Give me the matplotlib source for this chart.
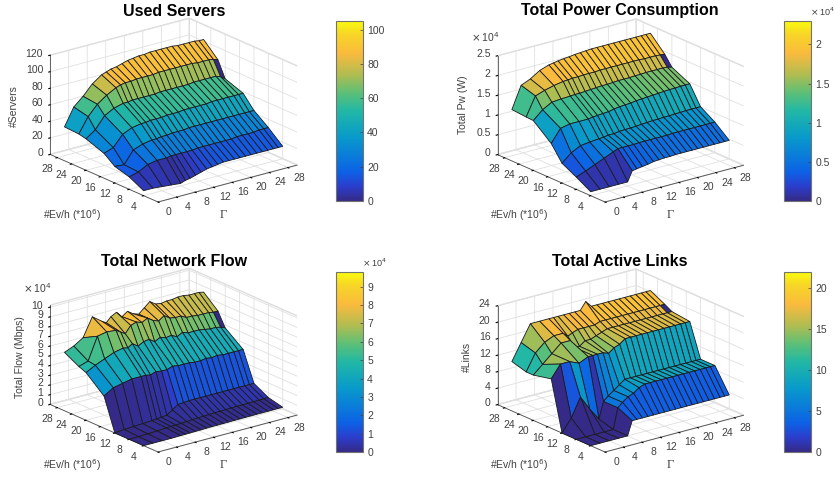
import numpy as np
import matplotlib
matplotlib.use("Agg")
import matplotlib.pyplot as plt
from matplotlib.colors import LinearSegmentedColormap, Normalize
from matplotlib.cm import ScalarMappable
from mpl_toolkits.mplot3d import proj3d

plt.rcParams['font.family'] = ['Liberation Sans', 'DejaVu Sans']

gamma = [0, 2, 4, 6, 8, 9, 10, 11.2, 12.4, 13.6, 14.8, 16, 17.2, 18.4, 19.6, 20.8, 22, 23.2, 24.4, 25.6, 26.8, 28, 29, 30]
ev = [4, 8, 12, 15, 20, 22, 26]

servers = [
 [6, 6, 5, 4, 3, 5, 6, 8, 10, 12, 13, 14, 15, 15, 15, 15, 15, 15, 15, 15, 15, 15, 15, 15],
 [15, 18, 24, 26, 26, 27, 27, 27, 27, 27, 28, 28, 28, 28, 28, 28, 28, 29, 29, 29, 29, 30, 30, 30],
 [20, 19, 34, 38, 40, 40, 41, 41, 42, 42, 42, 43, 43, 43, 43, 43, 43, 43, 43, 43, 43, 43, 43, 43],
 [30, 34, 47, 52, 54, 54, 55, 55, 55, 56, 56, 56, 57, 57, 57, 57, 57, 58, 58, 58, 58, 58, 58, 58],
 [38, 46, 60, 66, 69, 69, 70, 70, 70, 70, 70, 71, 71, 71, 71, 71, 71, 72, 72, 72, 72, 72, 70, 66],
 [40, 58, 70, 78, 84, 86, 87, 87, 88, 88, 88, 88, 89, 89, 89, 89, 89, 89, 89, 88, 88, 88, 87, 85],
 [41, 62, 72, 84, 92, 94, 96, 97, 99, 101, 102, 103, 103, 104, 104, 104, 104, 104, 103, 103, 103, 103, 102, 102],
]
power = [
 [.1, .1, .1, .1, .1, .35, .37, .39, .41, .44, .45, .46, .46, .47, .47, .47, .47, .47, .47, .47, .47, .47, .47, .47],
 [.31, .4, .5, .6, .7, .75, .75, .75, .75, .76, .76, .76, .76, .76, .76, .77, .77, .77, .77, .77, .77, .77, .77, .77],
 [.5, .7, .82, .85, .87, .88, .9, .9, .92, .93, .93, .94, .95, .96, .97, .97, .98, .98, .99, .99, 1, 1, 1, 1],
 [.88, 1.2, 1.25, 1.25, 1.25, 1.27, 1.28, 1.29, 1.3, 1.33, 1.35, 1.36, 1.37, 1.39, 1.4, 1.41, 1.42, 1.43, 1.44, 1.45, 1.45, 1.46, 1.46, 1.46],
 [1.26, 1.47, 1.6, 1.62, 1.63, 1.64, 1.64, 1.65, 1.66, 1.67, 1.68, 1.68, 1.69, 1.7, 1.7, 1.7, 1.71, 1.71, 1.72, 1.72, 1.72, 1.72, 1.71, 1.68],
 [1.27, 1.74, 1.82, 1.88, 1.92, 1.93, 1.94, 1.94, 1.95, 1.95, 1.95, 1.96, 1.96, 1.96, 1.96, 1.96, 1.96, 1.96, 1.96, 1.95, 1.95, 1.95, 1.94, 1.93],
 [1.3, 1.85, 1.95, 2.1, 2.18, 2.2, 2.22, 2.24, 2.25, 2.27, 2.28, 2.29, 2.3, 2.3, 2.3, 2.3, 2.3, 2.3, 2.3, 2.3, 2.3, 2.3, 2.3, 2.3],
]
flow = [
 [0, 0, 0, 0, .02, .03, .04, .05, .06, .08, .09, .1, .1, .11, .12, .12, .13, .13, .14, .14, .14, .15, .15, .15],
 [0, .02, .05, .1, .15, .18, .2, .22, .25, .3, .32, .35, .37, .4, .4, .42, .43, .45, .45, .46, .47, .48, .5, .5],
 [0, .1, .15, .2, .25, .3, .35, .4, .8, 1.2, 1.25, 1.3, 1.3, 1.3, 1.3, 1.3, 1.3, 1.3, 1.3, 1.3, 1.3, 1.3, 1.3, 1.3],
 [3.3, 3.9, 4.1, 4.3, 4.3, 4.3, 4.2, 4.4, 4.3, 4.3, 4.5, 4.4, 4.4, 4.4, 4.3, 4.3, 4.4, 4.3, 4.4, 4.3, 4.3, 4.3, 4.3, 4.3],
 [4.9, 5.4, 5.8, 6.2, 6.4, 6.3, 6.6, 6.2, 6.5, 6.6, 6.2, 6.5, 6.3, 6.4, 6.1, 6.4, 6.2, 6.2, 6.2, 6.1, 6.0, 6.0, 5.9, 5.7],
 [5.2, 5.5, 7.8, 8.0, 7.9, 7.6, 7.3, 8.0, 8.2, 8.0, 8.3, 7.9, 7.7, 8.1, 7.7, 7.6, 7.6, 7.3, 7.3, 7.2, 7.2, 7.2, 7.1, 7.1],
 [6.0, 6.4, 7.0, 8.9, 8.2, 7.9, 8.4, 8.7, 8.1, 8.5, 8.1, 7.9, 8.4, 8.9, 8.5, 8.4, 8.5, 8.5, 8.6, 8.6, 8.5, 8.5, 8.5, 8.4],
]
links = [
 [0, 0, 0, 0, 0, 3.4, 3.4, 3.4, 3.4, 3.4, 3.4, 3.4, 3.4, 3.4, 3.4, 3.4, 3.4, 3.4, 3.4, 3.4, 3.4, 3.4, 3.4, 3.4],
 [0, 0, 0, 0, 0, 5, 6, 7, 7.5, 8.5, 9, 9, 9, 9, 9, 9, 9, 9, 9, 9, 9, 9, 9, 9],
 [0, 3, 7.5, 4, 1, 5, 6, 7, 8, 9, 9, 9, 9, 9, 9, 9, 9, 9, 9, 9, 9, 9, 9, 9],
 [12, 15, 15, 14, 15, 15, 15, 15, 14.5, 15.5, 16, 17, 17, 17, 17, 17, 17, 17, 17, 17, 17, 17, 17, 17],
 [11, 13, 15, 17, 17, 15, 15, 16, 16, 16.5, 17, 17.5, 17.5, 17.5, 17.5, 17.5, 17.5, 17.5, 17.5, 17.5, 17.5, 17.5, 17.5, 17.5],
 [11, 15, 17, 18, 18, 17, 17.5, 18, 18, 18, 18, 18.5, 18.5, 18.5, 18.5, 18.5, 18.5, 18.5, 18.5, 18.5, 18.5, 18.5, 18.5, 18.5],
 [12, 16, 20, 20, 20, 20, 20, 20, 20, 20, 20, 21.8, 20.3, 20.3, 20.3, 20.3, 20.3, 20.3, 20.3, 20.3, 20.3, 20.3, 20.3, 20.3],
]

titles = ['Used Servers', 'Total Power Consumption', 'Total Network Flow', 'Total Active Links']
zlabels = ['#Servers', 'Total Pw (W)', 'Total Flow (Mbps)', '#Links']
zticks = [[0, 20, 40, 60, 80, 100, 120], [0, .5, 1, 1.5, 2, 2.5], list(range(11)), [0, 4, 8, 12, 16, 20, 24]]
zticklabels = [[str(v) for v in zticks[0]], ['0', '0.5', '1', '1.5', '2', '2.5'],
               [str(v) for v in zticks[2]], [str(v) for v in zticks[3]]]
ztops = [120, 2.5, 10.2, 24]
cmax = [105, 2.3, 9.8, 22]
cbticks = [[0, 20, 40, 60, 80, 100], [0, .5, 1, 1.5, 2], list(range(10)), [0, 5, 10, 15, 20]]
cblabels = [[str(v) for v in cbticks[0]], ['0', '0.5', '1', '1.5', '2'],
            [str(v) for v in cbticks[2]], [str(v) for v in cbticks[3]]]
data = [servers, power, flow, links]
gticks = [0, 4, 8, 12, 16, 20, 24, 28]
eticks = [4, 8, 12, 16, 20, 24, 28]

W, H = 835, 479
fronts = [(158, 202), (605, 202), (158, 452), (605, 452)]
lefts = [50, 497, 50, 497]
rights = [297, 743, 297, 743]
cbars = [(336, 21, 27, 180), (784, 21, 27, 180), (336, 272, 27, 180), (784, 272, 27, 180)]
title_xy = [(174, 11), (620, 11), (174, 262), (620, 262)]
zlabel_xy = [(14, 106), (463, 105), (20, 357), (467, 357)]
fs = 7.5

parula = LinearSegmentedColormap.from_list('parula', [
    (0.00, (.208, .166, .529)), (.08, (.17, .24, .80)), (.16, (.05, .38, .90)), (.35, (.03, .60, .80)),
    (.50, (.13, .72, .65)), (.60, (.36, .75, .47)), (.70, (.68, .74, .32)), (.82, (.98, .73, .24)),
    (.93, (.97, .84, .15)), (1.0, (.98, .98, .05))], N=256)

fig = plt.figure(figsize=(W / 100, H / 100), dpi=100)
TXT = (.25, .25, .25)
GX, EV = np.meshgrid(gamma, ev)

def corner_px(ax, x, y, z):
    ax.apply_aspect()
    xs, ys, _ = proj3d.proj_transform(x, y, z, ax.get_proj())
    return ax.transData.transform((xs, ys))

def put(px, py, s, **kw):
    kw.setdefault('fontsize', fs); kw.setdefault('color', TXT); kw.setdefault('va', 'center')
    fig.text(px / W, py / H, s, **kw)

for i in range(4):
    S0 = 400.
    ax = fig.add_axes([0, 0, S0 / W, S0 / H], projection='3d', proj_type='ortho', facecolor='none')
    ax.view_init(elev=20, azim=-127.8)
    ax.set_box_aspect((1, 1, .6))
    ax.set_xlim(0, 30); ax.set_ylim(0, 30); ax.set_zlim(0, ztops[i])
    Z = np.array(data[i], float)
    norm = Normalize(0, cmax[i])
    fc = parula(norm(Z))
    fc[4, -2] = parula(0.0)
    ax.plot_surface(GX, EV, Z, facecolors=fc, rstride=1, cstride=1, shade=False,
                    edgecolor=(.1, .1, .12), linewidth=.6, antialiased=True)
    ax.set_xticks(gticks); ax.set_yticks(eticks); ax.set_zticks(zticks[i])
    ax.set_xticklabels([''] * len(gticks)); ax.set_yticklabels([''] * len(eticks))
    ax.set_zticklabels([''] * len(zticks[i]))
    for a in (ax.xaxis, ax.yaxis, ax.zaxis):
        a.set_pane_color((1, 1, 1, 1))
        a.pane.set_edgecolor((.87, .87, .87))
        a.line.set_color((.3, .3, .3))
        a.line.set_linewidth(.6)
        a._axinfo['grid'].update(color=(.88, .88, .88), linewidth=.6)
        a._axinfo['tick'].update(inward_factor=.12, outward_factor=0)
    p0 = corner_px(ax, 0, 0, 0)
    pl = corner_px(ax, 0, 30, 0)
    pr = corner_px(ax, 30, 0, 0)
    k = (rights[i] - lefts[i]) / (pr[0] - pl[0])
    S = S0 * k
    fx, fy = fronts[i]
    left = fx - p0[0] * k
    bottom = (H - fy) - p0[1] * k
    ax.set_position([left / W, bottom / H, S / W, S / H])

    for g in gticks:
        p = corner_px(ax, g, 0, 0)
        put(p[0] + 11, p[1] - 10, str(g), ha='center')
    for e in eticks:
        p = corner_px(ax, 0, e, 0)
        put(p[0] - 10, p[1] - 11, str(e), ha='center')
    for zv, s in zip(zticks[i], zticklabels[i]):
        p = corner_px(ax, 0, 30, zv)
        put(p[0] - 7, p[1] + 1.5, s, ha='right')

    put(title_xy[i][0], H - title_xy[i][1], titles[i], fontsize=11.5, fontweight='bold', ha='center', color='k')
    put(fx - 115, H - (fy + 13), r'#Ev/h (*10$^6$)', ha='left')
    put(fx + 65, H - (fy + 13), 'Γ', fontsize=9, family='Liberation Serif', ha='center')
    put(zlabel_xy[i][0], H - zlabel_xy[i][1], zlabels[i], rotation=90, ha='center')

    x, y, w, h = cbars[i]
    cax = fig.add_axes([x / W, 1 - (y + h) / H, w / W, h / H])
    cb = fig.colorbar(ScalarMappable(norm=norm, cmap=parula), cax=cax)
    cb.set_ticks(cbticks[i]); cb.set_ticklabels(cblabels[i])
    cb.ax.tick_params(labelsize=fs, colors=TXT, length=2, width=.5, pad=3, direction='in')
    cb.outline.set_edgecolor((.45, .45, .45)); cb.outline.set_linewidth(.8)
    if i in (1, 2):
        put(x + 38, H - (y - 9), r'$\times\,$10$^4$', fontsize=6.5, ha='center')
    if i == 1:
        put(485, H - 37, r'$\times\,$10$^4$', ha='center')
    if i == 2:
        put(37, H - 288, r'$\times\,$10$^4$', ha='center')

fig.savefig('out.png', dpi=100)
